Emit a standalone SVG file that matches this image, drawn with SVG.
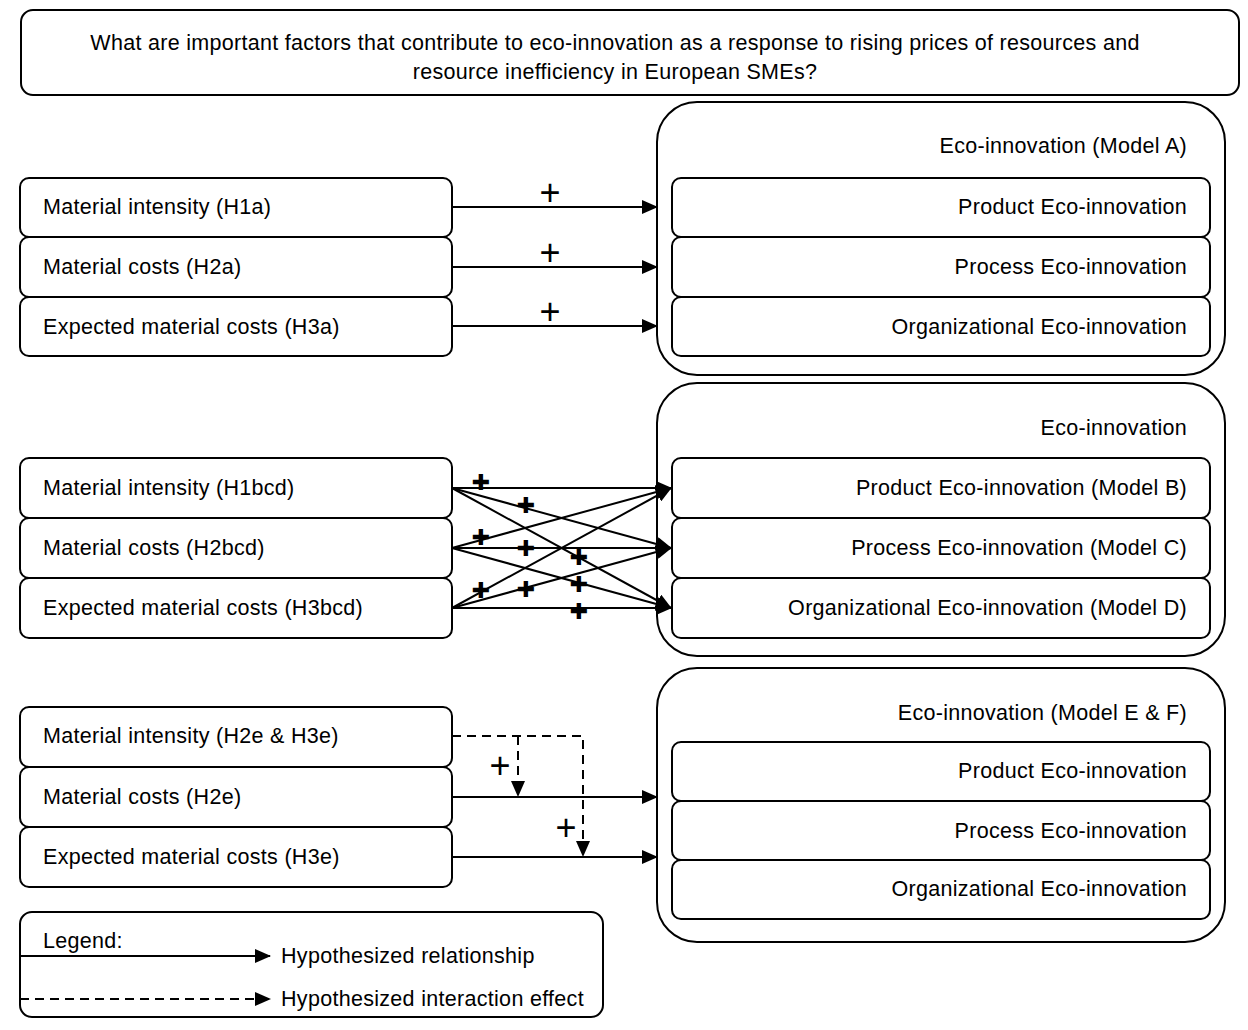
<svg xmlns="http://www.w3.org/2000/svg" width="1248" height="1030" viewBox="0 0 1248 1030">
<style>
.box{fill:#fff;stroke:#000;stroke-width:2}
.t{font-family:"Liberation Sans",Arial,sans-serif;font-size:21.5px;letter-spacing:0.3px;fill:#000}
.r{text-anchor:end}
.c{text-anchor:middle}
.ln{stroke:#000;stroke-width:2;fill:none}
.dash{stroke-dasharray:9,6}
.plus{font-family:"Liberation Sans",Arial,sans-serif;font-size:36px;fill:#000;text-anchor:middle}
.bp{font-family:"DejaVu Sans",sans-serif;font-size:22px;fill:#000;text-anchor:middle}
</style>
<defs>
<marker id="ah" markerUnits="userSpaceOnUse" markerWidth="16" markerHeight="14" refX="15" refY="7" orient="auto">
<path d="M0,0 L16,7 L0,14 Z" fill="#000"/>
</marker>
</defs>
<rect width="1248" height="1030" fill="#fff"/>

<g id="title">
<rect class="box" x="21" y="10" width="1218" height="85" rx="12"/>
<text class="t c" x="615" y="50">What are important factors that contribute to eco-innovation as a response to rising prices of resources and</text>
<text class="t c" x="615" y="79">resource inefficiency in European SMEs?</text>
</g>

<!-- Set A -->
<g id="modelA">
<rect class="box" x="657" y="102" width="568" height="273" rx="40"/>
<text class="t r" x="1187" y="153">Eco-innovation (Model A)</text>
</g>
<g id="a-prod"><rect class="box" x="672" y="178" width="538" height="59" rx="9"/><text class="t r" x="1187" y="214">Product Eco-innovation</text></g>
<g id="a-proc"><rect class="box" x="672" y="237" width="538" height="60" rx="9"/><text class="t r" x="1187" y="274">Process Eco-innovation</text></g>
<g id="a-org"><rect class="box" x="672" y="297" width="538" height="59" rx="9"/><text class="t r" x="1187" y="334">Organizational Eco-innovation</text></g>
<g id="a-h1"><rect class="box" x="20" y="178" width="432" height="59" rx="9"/><text class="t" x="43" y="214">Material intensity (H1a)</text></g>
<g id="a-h2"><rect class="box" x="20" y="237" width="432" height="60" rx="9"/><text class="t" x="43" y="274">Material costs (H2a)</text></g>
<g id="a-h3"><rect class="box" x="20" y="297" width="432" height="59" rx="9"/><text class="t" x="43" y="334">Expected material costs (H3a)</text></g>

<!-- Set B -->
<g id="modelBCD">
<rect class="box" x="657" y="383" width="568" height="273" rx="40"/>
<text class="t r" x="1187" y="435">Eco-innovation</text>
</g>
<g id="b-prod"><rect class="box" x="672" y="458" width="538" height="60" rx="9"/><text class="t r" x="1187" y="495">Product Eco-innovation (Model B)</text></g>
<g id="b-proc"><rect class="box" x="672" y="518" width="538" height="60" rx="9"/><text class="t r" x="1187" y="555">Process Eco-innovation (Model C)</text></g>
<g id="b-org"><rect class="box" x="672" y="578" width="538" height="60" rx="9"/><text class="t r" x="1187" y="615">Organizational Eco-innovation (Model D)</text></g>
<g id="b-h1"><rect class="box" x="20" y="458" width="432" height="60" rx="9"/><text class="t" x="43" y="495">Material intensity (H1bcd)</text></g>
<g id="b-h2"><rect class="box" x="20" y="518" width="432" height="60" rx="9"/><text class="t" x="43" y="555">Material costs (H2bcd)</text></g>
<g id="b-h3"><rect class="box" x="20" y="578" width="432" height="60" rx="9"/><text class="t" x="43" y="615">Expected material costs (H3bcd)</text></g>

<!-- Set E -->
<g id="modelEF">
<rect class="box" x="657" y="668" width="568" height="274" rx="40"/>
<text class="t r" x="1187" y="720">Eco-innovation (Model E &amp; F)</text>
</g>
<g id="e-prod"><rect class="box" x="672" y="742" width="538" height="59" rx="9"/><text class="t r" x="1187" y="778">Product Eco-innovation</text></g>
<g id="e-proc"><rect class="box" x="672" y="801" width="538" height="59" rx="9"/><text class="t r" x="1187" y="838">Process Eco-innovation</text></g>
<g id="e-org"><rect class="box" x="672" y="860" width="538" height="59" rx="9"/><text class="t r" x="1187" y="896">Organizational Eco-innovation</text></g>
<g id="e-h1"><rect class="box" x="20" y="707" width="432" height="60" rx="9"/><text class="t" x="43" y="743">Material intensity (H2e &amp; H3e)</text></g>
<g id="e-h2"><rect class="box" x="20" y="767" width="432" height="60" rx="9"/><text class="t" x="43" y="804">Material costs (H2e)</text></g>
<g id="e-h3"><rect class="box" x="20" y="827" width="432" height="60" rx="9"/><text class="t" x="43" y="864">Expected material costs (H3e)</text></g>

<g id="legend">
<rect class="box" x="20" y="912" width="583" height="105" rx="12"/>
<text class="t" x="43" y="948">Legend:</text>
<line class="ln" x1="20" y1="956" x2="270" y2="956" marker-end="url(#ah)"/>
<text class="t" x="281" y="963">Hypothesized relationship</text>
<line class="ln dash" x1="20" y1="999" x2="270" y2="999" marker-end="url(#ah)"/>
<text class="t" x="281" y="1006">Hypothesized interaction effect</text>
</g>

<g id="connectors">
<line class="ln" x1="452" y1="207" x2="657" y2="207" marker-end="url(#ah)"/>
<line class="ln" x1="452" y1="267" x2="657" y2="267" marker-end="url(#ah)"/>
<line class="ln" x1="452" y1="326" x2="657" y2="326" marker-end="url(#ah)"/>
<text class="plus" x="550" y="205">+</text>
<text class="plus" x="550" y="265">+</text>
<text class="plus" x="550" y="324">+</text>

<line class="ln" x1="452" y1="488" x2="671" y2="488" marker-end="url(#ah)"/>
<line class="ln" x1="452" y1="488" x2="671" y2="548" marker-end="url(#ah)"/>
<line class="ln" x1="452" y1="488" x2="671" y2="608" marker-end="url(#ah)"/>
<line class="ln" x1="452" y1="548" x2="671" y2="488" marker-end="url(#ah)"/>
<line class="ln" x1="452" y1="548" x2="671" y2="548" marker-end="url(#ah)"/>
<line class="ln" x1="452" y1="548" x2="671" y2="608" marker-end="url(#ah)"/>
<line class="ln" x1="452" y1="608" x2="671" y2="488" marker-end="url(#ah)"/>
<line class="ln" x1="452" y1="608" x2="671" y2="548" marker-end="url(#ah)"/>
<line class="ln" x1="452" y1="608" x2="671" y2="608" marker-end="url(#ah)"/>
<text class="bp" x="481" y="490">✚</text>
<text class="bp" x="526" y="513">✚</text>
<text class="bp" x="481" y="545">✚</text>
<text class="bp" x="526" y="556">✚</text>
<text class="bp" x="579" y="565">✚</text>
<text class="bp" x="481" y="598">✚</text>
<text class="bp" x="526" y="597">✚</text>
<text class="bp" x="579" y="592">✚</text>
<text class="bp" x="579" y="619">✚</text>

<line class="ln" x1="452" y1="797" x2="657" y2="797" marker-end="url(#ah)"/>
<line class="ln" x1="452" y1="857" x2="657" y2="857" marker-end="url(#ah)"/>
<polyline class="ln dash" points="452,736 583,736 583,856" marker-end="url(#ah)"/>
<line class="ln dash" x1="518" y1="736" x2="518" y2="796" marker-end="url(#ah)"/>
<text class="plus" x="500" y="778">+</text>
<text class="plus" x="566" y="840">+</text>
</g>
</svg>
